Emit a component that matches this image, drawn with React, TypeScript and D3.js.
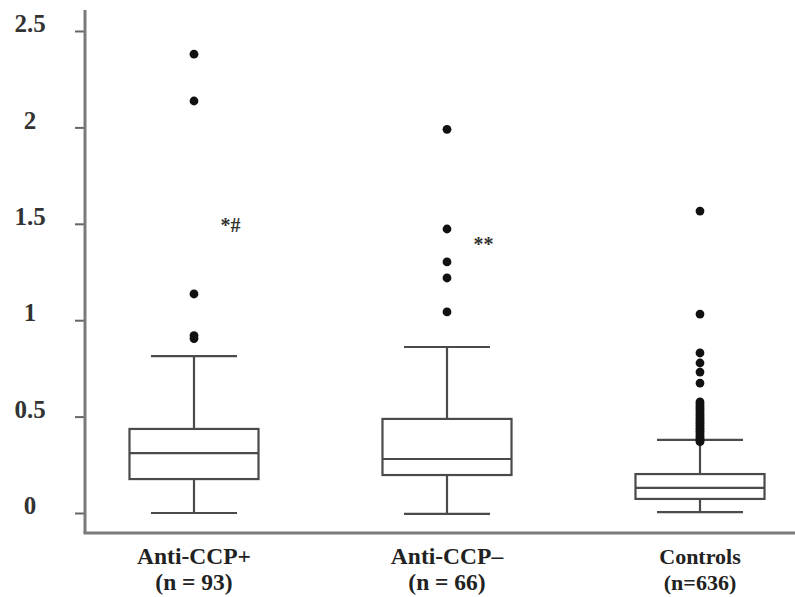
import { useEffect, useRef } from "react";
import * as d3 from "d3";

// values
const categories = ["Anti-CCP+", "Anti-CCP\u2013", "Controls"];
const sampleSizes = ["(n = 93)", "(n = 66)", "(n=636)"];
const whiskerLow = [0.0, -0.005, 0.005];
const q1 = [0.176, 0.197, 0.073];
const medians = [0.311, 0.28, 0.13];
const q3 = [0.436, 0.488, 0.202];
const whiskerHigh = [0.814, 0.861, 0.379];
const outliersPos = [2.38, 2.137, 1.136, 0.92, 0.905];
const outliersNeg = [1.99, 1.473, 1.302, 1.219, 1.043];
const outliersCtrl = [
    1.566, 1.032, 0.83, 0.778, 0.731, 0.674,
    0.576, 0.566, 0.555, 0.545, 0.536, 0.525, 0.514, 0.505, 0.494, 0.485,
    0.474, 0.465, 0.455, 0.444, 0.435, 0.424, 0.415, 0.404, 0.395, 0.386, 0.377, 0.37,
];
const annotations = ["*#", "**", ""];
const annotationLevels = [1.46, 1.36, 0];
const yTicks = [0, 0.5, 1, 1.5, 2, 2.5];

export default function App() {
    const ref = useRef<SVGSVGElement | null>(null);

    useEffect(() => {
        const svg = d3.select(ref.current);
        svg.selectAll("*").remove();

        const width = 795;
        const height = 597;
        const axisX = 85;
        const axisTop = 10;
        const axisBottom = 533;
        const ink = "#4a4a4a";
        const font = "'Liberation Serif', 'Times New Roman', serif";

        const y = d3.scaleLinear().domain([0, 2.5]).range([513, 31]);
        const x = d3.scalePoint<string>()
            .domain(categories)
            .range([67.5, 826.5])
            .padding(0.5);
        const step = x.step();
        const boxW = step * 0.51;
        const capW = step * 0.34;

        svg.attr("width", width).attr("height", height)
            .style("font-family", font);

        svg.append("rect").attr("width", width).attr("height", height).attr("fill", "#fff");

        // y axis
        const yAxis = d3.axisLeft(y)
            .tickValues(yTicks)
            .tickSize(10)
            .tickFormat(d => d3.format("")(d as number));
        const gy = svg.append("g")
            .attr("transform", `translate(${axisX},0)`)
            .call(yAxis);
        gy.select(".domain").remove();
        gy.selectAll(".tick line").attr("stroke", "#666").attr("stroke-width", 2);
        gy.selectAll(".tick text")
            .attr("x", -55)
            .attr("dy", "0.03em")
            .attr("text-anchor", "middle")
            .style("font-size", "25px")
            .style("font-weight", "bold")
            .style("font-family", font)
            .attr("fill", "#333");

        svg.append("line")
            .attr("x1", axisX).attr("x2", axisX)
            .attr("y1", axisTop).attr("y2", axisBottom)
            .attr("stroke", "#7a7a7a").attr("stroke-width", 3);
        svg.append("line")
            .attr("x1", axisX - 1.5).attr("x2", width)
            .attr("y1", axisBottom).attr("y2", axisBottom)
            .attr("stroke", "#7a7a7a").attr("stroke-width", 3);

        // boxes
        categories.forEach((c, i) => {
            const cx = x(c) as number;
            const g = svg.append("g")
                .attr("fill", "none")
                .attr("stroke", ink)
                .attr("stroke-width", 2.2);

            g.append("line")
                .attr("x1", cx).attr("x2", cx)
                .attr("y1", y(whiskerHigh[i])).attr("y2", y(q3[i]));
            g.append("line")
                .attr("x1", cx).attr("x2", cx)
                .attr("y1", y(q1[i])).attr("y2", y(whiskerLow[i]));
            [whiskerHigh[i], whiskerLow[i]].forEach(v => {
                g.append("line")
                    .attr("x1", cx - capW / 2).attr("x2", cx + capW / 2)
                    .attr("y1", y(v)).attr("y2", y(v));
            });
            g.append("rect")
                .attr("x", cx - boxW / 2)
                .attr("width", boxW)
                .attr("y", y(q3[i]))
                .attr("height", y(q1[i]) - y(q3[i]))
                .attr("fill", "#fff");
            g.append("line")
                .attr("x1", cx - boxW / 2).attr("x2", cx + boxW / 2)
                .attr("y1", y(medians[i])).attr("y2", y(medians[i]));

            if (annotations[i]) {
                svg.append("text")
                    .attr("x", cx + step * 0.105)
                    .attr("y", y(annotationLevels[i]))
                    .style("font-size", "20px")
                    .style("font-weight", "bold")
                    .attr("fill", "#333")
                    .text(annotations[i]);
            }

            // the Controls label is set a little narrower in the original
            const labelSize = i === 2 ? 22 : 23.5;
            svg.append("text")
                .attr("x", cx)
                .attr("y", 564)
                .attr("text-anchor", "middle")
                .style("font-size", `${labelSize}px`)
                .style("font-weight", "bold")
                .attr("fill", "#222")
                .text(c);
            svg.append("text")
                .attr("x", cx)
                .attr("y", 590)
                .attr("text-anchor", "middle")
                .style("font-size", `${labelSize}px`)
                .style("font-weight", "bold")
                .attr("fill", "#222")
                .text(sampleSizes[i]);
        });

        // outliers
        const outlierSets = [outliersPos, outliersNeg, outliersCtrl];
        outlierSets.forEach((vals, i) => {
            const cx = x(categories[i]) as number;
            svg.append("g")
                .selectAll("circle")
                .data(vals)
                .enter()
                .append("circle")
                .attr("cx", cx)
                .attr("cy", d => y(d))
                .attr("r", 4.4)
                .attr("fill", "#111");
        });
    }, []);

    return (
        <div style={{ position: "fixed", left: 0, top: 0, width: 795, height: 597, overflow: "hidden" }}>
            <svg ref={ref} />
        </div>
    );
}
